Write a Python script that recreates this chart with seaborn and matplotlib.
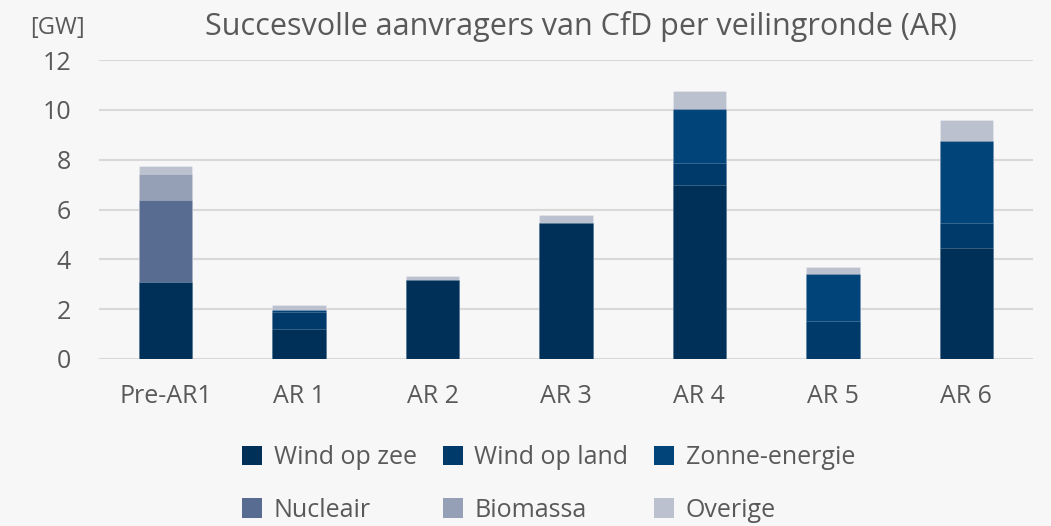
import matplotlib
matplotlib.use("Agg")
import matplotlib.pyplot as plt
import numpy as np
import pandas as pd
import seaborn as sns
from matplotlib.patches import Patch

# Rounds and awarded capacity per technology (GW)
rondes = ["Pre-AR1", "AR 1", "AR 2", "AR 3", "AR 4", "AR 5", "AR 6"]
wind_op_zee = [3.10, 1.20, 3.18, 5.45, 7.00, 0.00, 4.47]
wind_op_land = [0.00, 0.70, 0.00, 0.00, 0.88, 1.51, 1.00]
zonne_energie = [0.00, 0.07, 0.00, 0.00, 2.16, 1.89, 3.26]
nucleair = [3.27, 0.00, 0.00, 0.00, 0.00, 0.00, 0.00]
biomassa = [1.07, 0.00, 0.00, 0.00, 0.00, 0.00, 0.00]
overige = [0.30, 0.18, 0.17, 0.31, 0.72, 0.29, 0.88]

reeksen = ["Wind op zee", "Wind op land", "Zonne-energie", "Nucleair", "Biomassa", "Overige"]
kleuren = ["#003057", "#003A6A", "#00447A", "#586C92", "#959FB5", "#BCC1D0"]

df = pd.DataFrame(
    {
        "Wind op zee": wind_op_zee,
        "Wind op land": wind_op_land,
        "Zonne-energie": zonne_energie,
        "Nucleair": nucleair,
        "Biomassa": biomassa,
        "Overige": overige,
    },
    index=rondes,
)
cum = df.cumsum(axis=1)

sns.set_theme(style="white")
plt.rcParams["font.family"] = ["Open Sans", "DejaVu Sans"]
tekst = "#595959"
achtergrond = "#F7F7F7"

fig = plt.figure(figsize=(10.51, 5.26), dpi=100, facecolor=achtergrond)
ax = fig.add_axes([99 / 1051, 1 - 359 / 526, (1033 - 99) / 1051, (359 - 60) / 526])
ax.set_facecolor(achtergrond)

# Stacked bars: draw cumulative totals from the top layer downwards
for naam, kleur in reversed(list(zip(reeksen, kleuren))):
    sns.barplot(
        x=rondes,
        y=cum[naam].values,
        color=kleur,
        width=0.40,
        saturation=1,
        edgecolor=(1, 1, 1, 0.25),
        linewidth=0.6,
        ax=ax,
        zorder=3,
    )

ax.set_ylim(0, 12)
ax.set_xlim(-0.5, len(rondes) - 0.5)
ax.set_yticks(np.arange(0, 13, 2))
ax.yaxis.grid(True, color="#D9D9D9", linewidth=1.5, zorder=0)
ax.xaxis.grid(False)
for s in ax.spines.values():
    s.set_visible(False)
ax.tick_params(axis="y", length=0, pad=20, labelsize=18, labelcolor=tekst)
ax.tick_params(axis="x", length=0, pad=18, labelsize=18, labelcolor=tekst)
ax.set_xlabel("")
ax.set_ylabel("")

fig.text(0.553, 0.950, "Succesvolle aanvragers van CfD per veilingronde (AR)",
         ha="center", va="center", fontsize=22, color=tekst)
fig.text(57 / 1051, 1 - 28 / 526, "[GW]", ha="center", va="center",
         fontsize=17, color=tekst)

# Legend rows read left to right: reorder handles for column-major filling
handles = [Patch(facecolor=k, edgecolor="none", label=n) for n, k in zip(reeksen, kleuren)]
volgorde = [0, 3, 1, 4, 2, 5]
leg = fig.legend(
    handles=[handles[i] for i in volgorde],
    ncol=3,
    loc="center",
    bbox_to_anchor=(0.522, 0.080),
    frameon=False,
    fontsize=18,
    handlelength=0.8,
    handleheight=0.8,
    handletextpad=0.45,
    columnspacing=1.05,
    labelspacing=1.1,
)
for t in leg.get_texts():
    t.set_color(tekst)

fig.savefig("out.png", dpi=100, facecolor=achtergrond)
